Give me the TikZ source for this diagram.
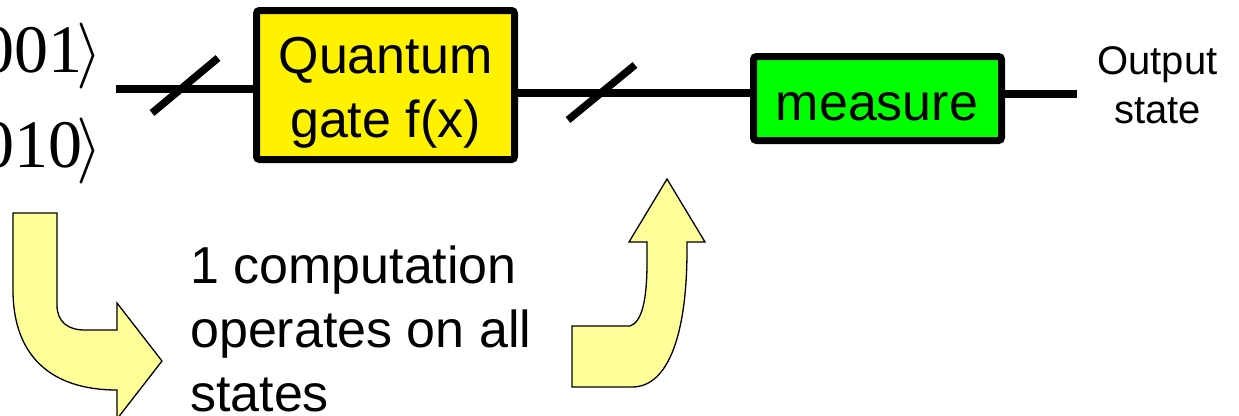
\documentclass[tikz,border=0pt]{standalone}
\usepackage{graphicx}
\usepackage{fontspec}
\setmainfont{Liberation Sans}
\newfontfamily\ketfont{Liberation Serif}
\definecolor{paleyel}{HTML}{FFFF99}
\newcommand{\bigket}{{\fontsize{10}{12}\selectfont\scalebox{6.6}{$\rangle$}}}
\tikzset{
  wire/.style={line width=8pt},
  slashmark/.style={line width=7.5pt},
  gatebox/.style={draw, line width=7pt, fill=yellow, rounded corners=3pt, inner sep=0pt, minimum width=258pt, minimum height=149pt},
  measbox/.style={draw, line width=7pt, fill=green, rounded corners=3pt, inner sep=0pt, minimum width=248pt, minimum height=84pt},
  lbl/.style={inner sep=0pt, font=\fontsize{52}{64}\selectfont, align=center},
  smalllbl/.style={inner sep=0pt, font=\fontsize{40}{49}\selectfont, align=center},
  ket/.style={inner sep=0pt, font=\ketfont\fontsize{68}{80}\selectfont},
  fatarrow/.style={draw=black, line width=1.3pt, fill=paleyel, line join=miter}
}
\begin{document}
\begin{tikzpicture}[x=1pt,y=-1pt]
\useasboundingbox (0,0) rectangle (1239,415);
% kets
\node[ket, anchor=base west] (k1) at (-20,72) {001\kern-6pt\bigket};
\node[ket, anchor=base west] (k2) at (-20,167) {010\kern-6pt\bigket};
% boxes
\node[gatebox] (gate) at (385.5,85) {};
\node[lbl] (gatetxt) at (385.5,92.5) {Quantum\\gate f(x)};
\node[measbox] (meas) at (877.5,98.5) {};
\node[lbl] (meastxt) at (877,106.5) {measure};
\node[smalllbl] (outtxt) at (1157.5,85.5) {Output\\state};
% wires
\coordinate (in1) at (116,89);
\draw[wire] (in1) -- (in1 -| gate.west);
\coordinate (w2) at ([yshift=-7.5pt]gate.east);
\draw[wire] ([xshift=-5pt]w2) -- (w2 -| meas.west);
\coordinate (w3) at ([yshift=4.5pt]meas.east);
\coordinate (out) at (1077,94);
\draw[wire] (w3) -- (w3 -| out);
% slashes
\draw[slashmark] (152,113) -- (218,58);
\draw[slashmark] (568,120) -- (635,65);
% curved arrows
\draw[fatarrow] (13,213) -- (57,213) -- (57,305) .. controls (57,322) and (68,330) .. (85,330) -- (117,330) -- (117,303) -- (162,361) -- (117,419) -- (117,390) .. controls (50,390) and (13,355) .. (13,290) -- cycle;
\draw[fatarrow] (572,387) -- (572,326) -- (630,326) .. controls (642,322) and (647,300) .. (647,262) -- (647,242) -- (629,242) -- (667,179) -- (705,242) -- (687,242) -- (687,250) .. controls (687,330) and (670,387) .. (632,387) -- cycle;
% text
\node[lbl, align=left, anchor=west] (comp) at (190,329) {1 computation\\operates on all\\states};
\end{tikzpicture}
\end{document}
